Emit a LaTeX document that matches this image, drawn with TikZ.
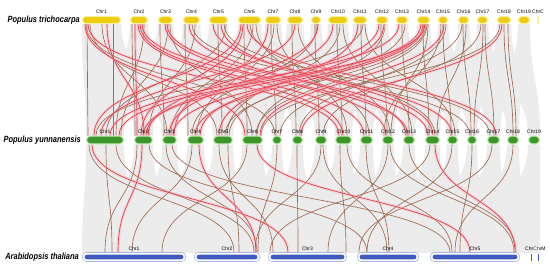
\documentclass[tikz,border=0pt]{standalone}
\usepackage{fontspec}
\setmainfont{Liberation Sans}
\usepackage{graphicx}
\usetikzlibrary{
  positioning,
  backgrounds
}
\definecolor{ptgold}{HTML}{EDCB0C}
\definecolor{ptglow}{HTML}{F6EF9C}
\definecolor{pygreen}{HTML}{3C962C}
\definecolor{pyglow}{HTML}{C4EAB4}
\definecolor{atblue}{HTML}{3F5BBE}
\definecolor{atrim}{HTML}{A9B6DE}
\definecolor{synbrown}{HTML}{9E6A52}
\definecolor{synred}{HTML}{E5383F}
\definecolor{synpink}{HTML}{F7A8BC}
\definecolor{ribgray}{HTML}{ECECEC}

% gray block between two chromosomes of neighbouring rows
\newcommand{\ribbon}[2]{%
  \fill[ribbon] (#1.south west) .. controls +(0,55) and +(0,-55) .. (#2.north west)
    -- (#2.north east) .. controls +(0,-55) and +(0,55) .. (#1.south east) -- cycle;}

\begin{document}
\begin{tikzpicture}[
      x=1pt, y=-1pt,
      ptchr/.style={
        rectangle, rounded corners=3pt, inner sep=0pt,
        minimum height=6.8pt, fill=ptgold, draw=ptglow, line width=1.2pt
      },
      pychr/.style={
        rectangle, rounded corners=3.5pt, inner sep=0pt,
        minimum height=7.8pt, fill=pygreen, draw=pyglow, line width=1.2pt
      },
      atchr/.style={
        rectangle, rounded corners=4pt, inner sep=0pt,
        minimum height=9pt, fill=white, draw=atrim, line width=0.6pt,
        path picture={\fill[atblue, rounded corners=2.5pt]
          ([xshift=2.2pt,yshift=-2.2pt]path picture bounding box.north west) rectangle
          ([xshift=-2.2pt,yshift=2.2pt]path picture bounding box.south east);}
      },
      organelle/.style={rectangle, inner sep=0pt, minimum width=0.8pt, minimum height=7pt},
      chrlab/.style={font=\fontsize{5}{5}\selectfont, inner sep=0pt},
      species/.style={font=\fontsize{9}{10}\selectfont\bfseries\itshape, inner sep=0pt},
      ribbon/.style={fill=ribgray},
      bro/.style={draw=synbrown, line width=0.65pt},
      hot/.style={draw=synred, line width=0.65pt,
        preaction={draw=synpink, line width=3pt, draw opacity=0.35}}
    ]
      \useasboundingbox (0,0) rectangle (550,268);

      % Populus trichocarpa
      \foreach \n/\w/\e in {1/82/121, 2/130/148, 3/158/173, 4/183/200, 5/209/228,
          6/238/261, 7/265/281, 8/287/303, 9/311/321, 10/328/348, 11/353/367,
          12/376/388, 13/396/408, 14/417/430, 15/438/448, 16/458/469, 17/477/488,
          18/497/511, 19/518/530} {
        \node[ptchr, minimum width={\e-\w-1.2}] (t\n) at ({(\w+\e)/2},20) {};
        \node[chrlab, above=2pt of t\n] (tl\n) {Chr\n};
      }
      \node[organelle, fill=ptgold, draw=ptglow, line width=0.6pt] (tC) at (538,20) {};
      \node[chrlab, above=2.5pt of tC] (tlC) {ChrC};
      \node[species, left=2pt of t1] (ptname) {\scalebox{0.83}[1]{Populus trichocarpa}};

      % Populus yunnanensis
      \foreach \n/\w/\e in {1/86/124, 2/134/153, 3/162/177, 4/187/204, 5/213/233,
          6/242/263, 7/272/282, 8/292/303, 9/315/327, 10/335/352, 11/360/373,
          12/382/394, 13/403/415, 14/425/440, 15/447/458, 16/467/477, 17/487/500,
          18/507/519, 19/528/540} {
        \node[pychr, minimum width={\e-\w-1.2}] (m\n) at ({(\w+\e)/2},140) {};
        \node[chrlab, above=2pt of m\n] (ml\n) {Chr\n};
      }
      \node[species, left=5pt of m1] (pyname) {\scalebox{0.83}[1]{Populus yunnanensis}};

      % Arabidopsis thaliana
      \foreach \n/\w/\e in {1/82/186, 2/194/260, 3/268/347, 4/357/419, 5/430/520} {
        \node[atchr, minimum width={\e-\w-0.6}] (a\n) at ({(\w+\e)/2},257) {};
        \node[chrlab, above=1.5pt of a\n] (al\n) {Chr\n};
      }
      \node[organelle, fill=atblue] (aC) at (531,257) {};
      \node[organelle, fill=atblue] (aM) at (538,257) {};
      \node[chrlab, above=3pt of aC] (alC) {ChrC};
      \node[chrlab, above=3pt of aM, fill=white, xshift=1.5pt] (alM) {ChrM};
      \node[species, left=3pt of a1] (atname) {\scalebox{0.83}[1]{Arabidopsis thaliana}};

      \begin{scope}[on background layer]
        \fill[white] (0,0) rectangle (550,268);

        % collinear blocks
        \foreach \i in {1,...,19} {\ribbon{t\i}{m\i}}
        \foreach \i [evaluate=\i as \j using int(\i+1)] in {1,...,18} {
          \ribbon{t\i}{m\j}
          \ribbon{t\j}{m\i}
        }
        \foreach \i [evaluate=\i as \j using int(\i+2)] in {1,...,17} {
          \ribbon{t\i}{m\j}
          \ribbon{t\j}{m\i}
        }
        \foreach \n/\w/\e in {1/86/124, 2/134/153, 3/162/177, 4/187/204, 5/213/233,
            6/242/263, 7/272/282, 8/292/303, 9/315/327, 10/335/352, 11/360/373,
            12/382/394, 13/403/415, 14/425/440, 15/447/458, 16/467/477, 17/487/500,
            18/507/519, 19/528/540} {
          \pgfmathsetmacro\u{max(82,82+0.965*(\w-86)-30)}
          \pgfmathsetmacro\v{min(540,82+0.965*(\e-86)+30)}
          \fill[ribbon] (m\n.south west) .. controls +(0,55) and +(0,-55) .. (\u,252.5)
            -- (\v,252.5) .. controls +(0,-55) and +(0,55) .. (m\n.south east) -- cycle;
        }

        % syntenic gene pairs, P. trichocarpa - P. yunnanensis
        \foreach \s/\a/\d/\b in {1/5/1/2, 1/31/1/27, 2/2/2/1, 3/2/3/2, 4/2/4/1, 5/9/5/9,
            6/6/6/5, 7/6/7/4, 8/5/8/4, 9/4/9/4, 10/9/10/7, 11/8/11/6, 12/5/12/5,
            13/6/13/6, 14/6/14/4, 15/5/15/4, 16/5/16/4, 17/8/17/7, 18/7/18/6,
            18/11/18/9, 1/4/7/3, 1/8/5/4, 1/20/3/5, 2/14/1/30, 3/10/1/35, 3/12/6/10,
            4/9/16/3, 4/12/2/15, 5/15/17/3, 5/17/1/20, 6/12/14/10, 6/15/3/9,
            6/18/11/9, 7/9/4/10, 7/12/10/12, 8/11/12/8, 9/6/4/5, 10/12/5/14,
            10/15/13/9, 11/10/1/10, 11/12/15/8, 12/9/6/15, 13/9/5/16, 14/9/5/12,
            14/10/6/14, 14/11/12/9, 15/3/12/2, 15/8/8/7, 16/4/7/8, 16/8/14/12,
            17/4/9/8, 17/6/16/7, 18/3/6/19}
          \draw[bro] ([xshift=\a pt]t\s.south west) .. controls +(0,55) and +(0,-55)
            .. ([xshift=\b pt]m\d.north west);
        \foreach \s/\a/\d/\b in {2/5/2/3, 1/3/6/3, 1/6/10/4, 1/25/2/10, 2/8/10/8,
            2/10/11/4, 2/12/13/5, 3/7/12/4, 3/9/14/3, 4/6/13/3, 5/4/15/5, 5/12/14/8,
            6/3/1/8, 6/5/2/7, 6/9/17/9, 7/3/3/12, 8/8/1/15, 9/7/2/14, 10/5/3/7,
            11/5/5/6, 12/3/2/12, 12/8/4/13, 13/3/1/24, 14/4/2/9, 14/6/3/11,
            14/7/4/8, 14/8/1/33, 15/6/6/18, 18/5/8/9}
          \draw[hot] ([xshift=\a pt]t\s.south west) .. controls +(0,55) and +(0,-55)
            .. ([xshift=\b pt]m\d.north west);

        % syntenic gene pairs, P. yunnanensis - A. thaliana
        \foreach \s/\a/\d/\b in {1/3/2/40, 1/20/1/30, 1/30/2/60, 2/3/1/23, 2/15/4/10,
            3/4/2/63, 3/10/5/20, 4/5/1/50, 5/6/3/5, 5/15/2/45, 6/5/1/80, 7/5/2/64,
            8/5/3/30, 9/6/2/61, 9/8/4/30, 10/5/3/78, 10/12/5/22, 11/6/4/32,
            12/6/3/60, 12/8/5/84, 13/6/5/86, 14/5/3/2, 15/5/4/10, 16/5/5/30,
            17/5/4/2, 18/6/5/25}
          \draw[bro] ([xshift=\a pt]m\s.south west) .. controls +(0,55) and +(0,-55)
            .. ([xshift=\b pt]a\d.north west);
        \foreach \s/\a/\d/\b in {1/6/3/20, 2/8/1/36, 4/12/2/62, 6/15/5/40, 14/10/5/85}
          \draw[hot] ([xshift=\a pt]m\s.south west) .. controls +(0,55) and +(0,-55)
            .. ([xshift=\b pt]a\d.north west);
      \end{scope}
    \end{tikzpicture}
\end{document}
